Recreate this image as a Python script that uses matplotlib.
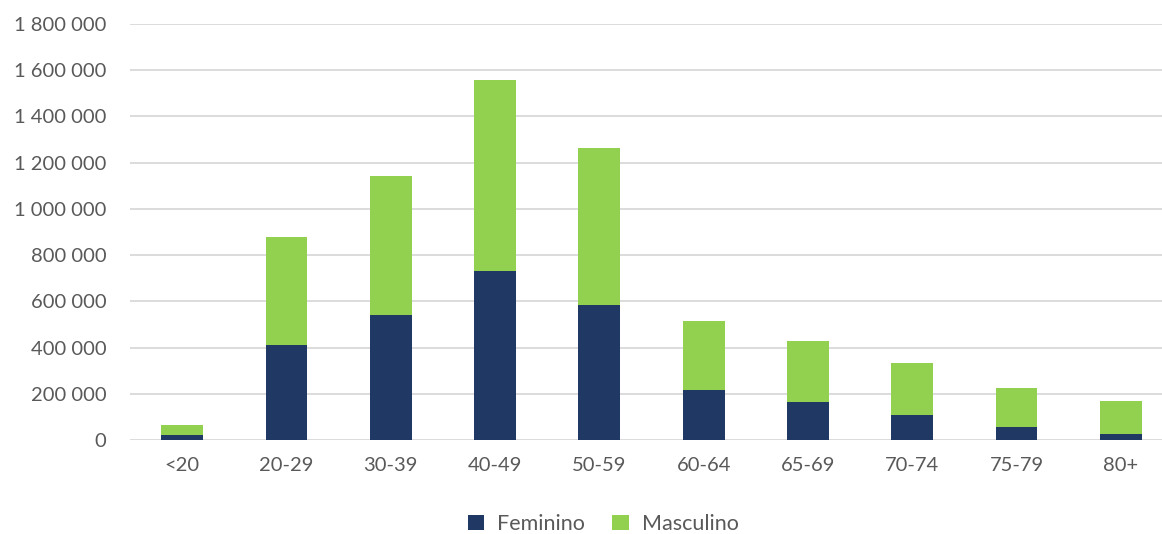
import matplotlib
matplotlib.use("Agg")
import matplotlib.pyplot as plt
from matplotlib.ticker import FuncFormatter, MultipleLocator

categories = ["<20", "20-29", "30-39", "40-49", "50-59", "60-64", "65-69", "70-74", "75-79", "80+"]
feminino = [23000, 411000, 541000, 733000, 584000, 218000, 165000, 110000, 58000, 24000]
masculino_total = [66000, 879000, 1143000, 1558000, 1264000, 513000, 428000, 335000, 225000, 170000]
masculino = [t - f for t, f in zip(masculino_total, feminino)]

NAVY = "#203864"
GREEN = "#92D050"
GRID = "#D9D9D9"
TEXT = "#595959"

plt.rcParams["font.family"] = ["Lato", "DejaVu Sans"]

W, H = 1162, 534
fig = plt.figure(figsize=(W / 100, H / 100), dpi=100)
left_px, right_px, top_px, bottom_px = 130, 1173, 24, 440
ax = fig.add_axes([left_px / W, 1 - bottom_px / H, (right_px - left_px) / W, (bottom_px - top_px) / H])

x = range(len(categories))
ax.bar(x, feminino, width=0.4, color=NAVY, label="Feminino", zorder=3)
ax.bar(x, masculino, width=0.4, bottom=feminino, color=GREEN, label="Masculino", zorder=3)

ax.set_xlim(-0.5, len(categories) - 0.5)
ax.set_ylim(0, 1800000)
ax.yaxis.set_major_locator(MultipleLocator(200000))
ax.yaxis.set_major_formatter(FuncFormatter(lambda v, p: f"{int(v):,}".replace(",", " ")))
ax.grid(axis="y", color=GRID, linewidth=1.3, zorder=0)
ax.set_xticks(list(x))
ax.set_xticklabels(categories)
for s in ax.spines.values():
    s.set_visible(False)
ax.tick_params(axis="both", length=0, labelsize=14.5, colors=TEXT)
ax.tick_params(axis="y", pad=17)
ax.tick_params(axis="x", pad=12)

handles, labels = ax.get_legend_handles_labels()
fig.legend(handles, labels, loc="center", bbox_to_anchor=(603 / W, 1 - 524 / H), ncol=2, frameon=False,
           fontsize=15.5, labelcolor=TEXT, handlelength=0.75, handleheight=0.75, handletextpad=0.6,
           columnspacing=1.3)

fig.savefig("out.png", dpi=100, facecolor="white")
